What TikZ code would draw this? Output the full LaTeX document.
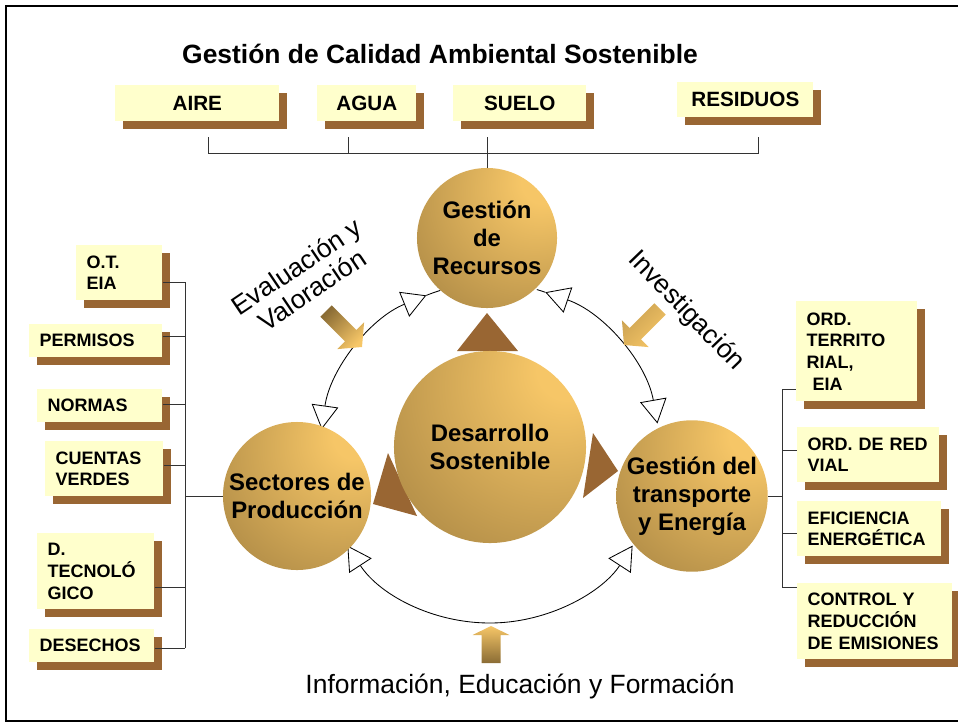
\documentclass[tikz,border=0pt]{standalone}
\usepackage{fontspec}
\setmainfont{Liberation Sans}
\usetikzlibrary{arrows.meta,shadows}
\definecolor{boxyellow}{HTML}{FFFFCC}
\definecolor{boxbrown}{HTML}{996633}
\definecolor{goldlight}{HTML}{F6C667}
\definecolor{goldmid}{HTML}{C9A050}
\definecolor{golddark}{HTML}{8A6C35}
\pgfdeclareradialshading{goldball}{\pgfpoint{22bp}{22bp}}{color(0bp)=(goldlight); color(8bp)=(goldlight); color(68bp)=(golddark); color(100bp)=(golddark)}

\begin{document}
\begin{tikzpicture}[x=0.025cm, y=0.025cm,
    ybox/.style={fill=boxyellow, inner sep=0pt, anchor=north west,
      drop shadow={shadow xshift=5.7pt, shadow yshift=-5.7pt, fill=boxbrown, opacity=1}},
    topbox/.style={ybox, font=\bfseries\fontsize{14.7}{17}\selectfont, minimum height=0.9cm},
    sidebox/.style={ybox, align=left, inner xsep=0.26cm, font=\bfseries\fontsize{12.8}{15.4}\selectfont},
    ball/.style={circle, shade, shading=goldball, inner sep=0pt, align=center, font=\bfseries\fontsize{17}{19.9}\selectfont},
    cyc/.style={{Triangle[open,length=17pt,width=19pt]}-{Triangle[open,length=17pt,width=19pt]}, line width=0.6pt},
    bus/.style={draw=black!80, line width=0.6pt},
    bigtext/.style={font=\fontsize{18.8}{20}\selectfont}]
  \useasboundingbox (0,0) rectangle (958,-724);
  \draw[line width=1.4pt] (6,-6) rectangle (975,-721);

  \node[font=\bfseries\fontsize{18.8}{22}\selectfont, anchor=base] (title) at (440,-63) {Gestión de Calidad Ambiental Sostenible};

  \node[topbox, minimum width=4.1cm] (aire) at (115,-85) {AIRE};
  \node[topbox, minimum width=2.475cm] (agua) at (317,-85) {AGUA};
  \node[topbox, minimum width=3.325cm] (suelo) at (453,-85) {SUELO};
  \node[topbox, minimum width=3.4cm, minimum height=0.875cm] (resid) at (677,-82) {RESIDUOS};

  \coordinate (C) at (490,-453);
  \foreach \a/\b in {172/112, 71/10, 213/327}
    \draw[cyc] ([shift={(C)}]\a:170) arc[start angle=\a, end angle=\b, radius=170];
  \draw[line width=0.6pt] ([shift={(C)}]112:170) arc[start angle=112, end angle=107, radius=170];
  \draw[line width=0.6pt] ([shift={(C)}]71:170) arc[start angle=71, end angle=74, radius=170];

  \fill[boxbrown] (487,-313) -- (457,-351) -- (518,-351) -- cycle;
  \fill[boxbrown] (618,-471) -- (593,-433) -- (583,-498) -- cycle;
  \fill[boxbrown] (373,-504) -- (388,-453) -- (417,-516) -- cycle;

  \node[ball, minimum size=3.5cm] (rec) at (487,-238) {Gestión\\de\\Recursos};
  \node[ball, minimum size=4.8cm] (des) at (490,-447) {Desarrollo\\Sostenible};
  \node[ball, minimum size=3.7cm] (sec) at (297,-496) {Sectores de\\Producción};
  \node[ball, minimum size=3.7cm] (tra) at (692,-496) {Gestión del\\transporte\\y Energía};

  \shade[left color=golddark, right color=goldlight, shading angle=45] (320.3,-316.7) -- (331.7,-305.3) -- (356.4,-330) -- (364.1,-322.3) -- (362,-347) -- (337.3,-349.1) -- (345,-341.3) -- cycle;
  \shade[left color=goldmid, right color=goldlight, shading angle=45] (654.3,-303.3) -- (629.6,-328) -- (621.9,-320.3) -- (624,-345) -- (648.7,-347.1) -- (641,-339.4) -- (665.7,-314.7) -- cycle;
  \shade[top color=goldlight, bottom color=golddark] (481.5,-663) -- (481.5,-635) -- (472.5,-635) -- (491,-626) -- (509.5,-635) -- (500.5,-635) -- (500.5,-663) -- cycle;

  \node[bigtext, rotate=34, align=center] (eval) at (304,-278) {Evaluación y\\Valoración};
  \node[bigtext, rotate=-46] (inv) at (686,-311) {Investigación};
  \node[bigtext, anchor=base] (info) at (520,-693) {Información, Educación y Formación};

  \node[sidebox, text width=1.63cm, minimum height=1.375cm] (ot) at (76,-245) {O.T.\\EIA};
  \node[sidebox, text width=2.805cm, minimum height=0.825cm] (permisos) at (29,-324) {PERMISOS};
  \node[sidebox, text width=2.605cm, minimum height=0.825cm] (normas) at (37,-389) {NORMAS};
  \node[sidebox, text width=2.43cm, minimum height=1.375cm] (cuentas) at (45,-441) {CUENTAS\\VERDES};
  \node[sidebox, text width=2.405cm, minimum height=1.9cm] (dtec) at (37,-533) {D.\\TECNOLÓ\\GICO};
  \node[sidebox, text width=2.605cm, minimum height=0.825cm] (desechos) at (29,-629) {DESECHOS};

  \node[sidebox, text width=2.505cm, minimum height=2.5cm] (ordter) at (796,-301) {ORD.\\TERRITO\\RIAL,\\\ EIA};
  \node[sidebox, text width=3.03cm, minimum height=1.375cm] (ordred) at (797,-427) {ORD.~DE~RED\\VIAL};
  \node[sidebox, text width=3.08cm, minimum height=1.375cm] (efic) at (797,-501) {EFICIENCIA\\ENERGÉTICA};
  \node[sidebox, text width=3.355cm, minimum height=1.9cm] (control) at (797,-583) {CONTROL~Y\\REDUCCIÓN\\DE~EMISIONES};

  \coordinate (ta) at (208,-137);
  \coordinate (tb) at (348,-137);
  \coordinate (tc) at (487,-137);
  \coordinate (td) at (758,-137);
  \draw[bus] (ta) -- ++(0,-16) -| (td);
  \draw[bus] (tb) -- ++(0,-16);
  \draw[bus] (tc) -- (rec.north);

  \coordinate (lt) at (185,-282);
  \coordinate (lb) at (185,-648);
  \draw[bus] (lt) -- (lb);
  \foreach \n/\y in {ot/282, permisos/336, normas/404, cuentas/465, dtec/587, desechos/648}
    \draw[bus] (\n.east |- 0,-\y) -- (lt |- 0,-\y);
  \draw[bus] (sec.west) -- (sec.west -| lt);

  \coordinate (rt) at (782,-389);
  \coordinate (rb) at (782,-587);
  \draw[bus] (rt) -- (rb);
  \foreach \n/\y in {ordter/389, ordred/450, efic/533, control/587}
    \draw[bus] (rt |- 0,-\y) -- (\n.west |- 0,-\y);
  \draw[bus] (tra.east) -- (tra.east -| rt);
\end{tikzpicture}
\end{document}
